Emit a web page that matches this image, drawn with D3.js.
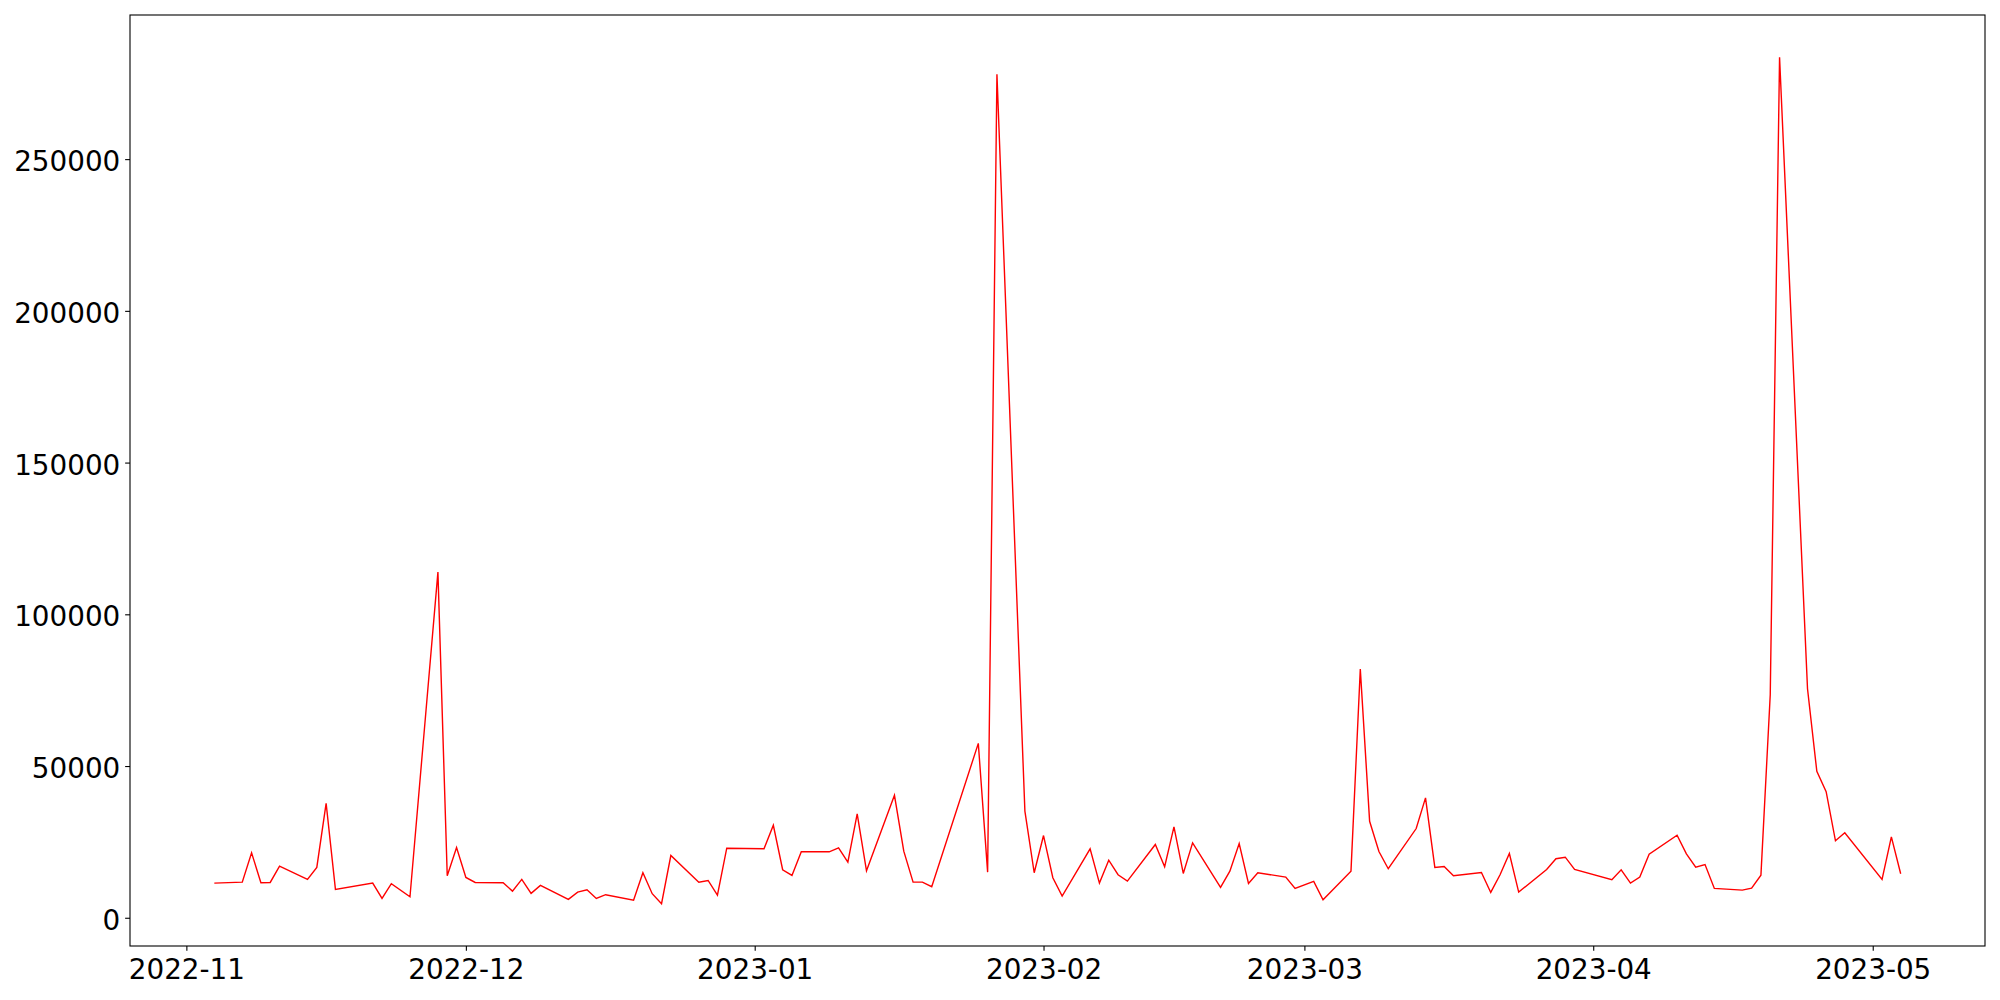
<!DOCTYPE html>

<head>
    <meta charset="utf-8">
    <script src="https://d3js.org/d3.v7.min.js"></script>
</head>

<body style="margin: 0; background: #fff">
    <style>
        .tick text {
            font-family: "DejaVu Sans", sans-serif;
            font-size: 27.8px;
            fill: #000;
        }

    </style>
    <svg width="2000" height="1000"></svg>

    <script>
        var dates = [
            "2022-11-04", "2022-11-07", "2022-11-08", "2022-11-09", "2022-11-10", "2022-11-11",
            "2022-11-14", "2022-11-15", "2022-11-16", "2022-11-17", "2022-11-21", "2022-11-22",
            "2022-11-23", "2022-11-25", "2022-11-28", "2022-11-29", "2022-11-30", "2022-12-01",
            "2022-12-02", "2022-12-05", "2022-12-06", "2022-12-07", "2022-12-08", "2022-12-09",
            "2022-12-12", "2022-12-13", "2022-12-14", "2022-12-15", "2022-12-16", "2022-12-19",
            "2022-12-20", "2022-12-21", "2022-12-22", "2022-12-23", "2022-12-26", "2022-12-27",
            "2022-12-28", "2022-12-29", "2023-01-02", "2023-01-03", "2023-01-04", "2023-01-05",
            "2023-01-06", "2023-01-09", "2023-01-10", "2023-01-11", "2023-01-12", "2023-01-13",
            "2023-01-16", "2023-01-17", "2023-01-18", "2023-01-19", "2023-01-20", "2023-01-25",
            "2023-01-26", "2023-01-27", "2023-01-30", "2023-01-31", "2023-02-01", "2023-02-02",
            "2023-02-03", "2023-02-06", "2023-02-07", "2023-02-08", "2023-02-09", "2023-02-10",
            "2023-02-13", "2023-02-14", "2023-02-15", "2023-02-16", "2023-02-17", "2023-02-20",
            "2023-02-21", "2023-02-22", "2023-02-23", "2023-02-24", "2023-02-27", "2023-02-28",
            "2023-03-02", "2023-03-03", "2023-03-06", "2023-03-07", "2023-03-08", "2023-03-09",
            "2023-03-10", "2023-03-13", "2023-03-14", "2023-03-15", "2023-03-16", "2023-03-17",
            "2023-03-20", "2023-03-21", "2023-03-22", "2023-03-23", "2023-03-24", "2023-03-27",
            "2023-03-28", "2023-03-29", "2023-03-30", "2023-04-03", "2023-04-04", "2023-04-05",
            "2023-04-06", "2023-04-07", "2023-04-10", "2023-04-11", "2023-04-12", "2023-04-13",
            "2023-04-14", "2023-04-17", "2023-04-18", "2023-04-19", "2023-04-20", "2023-04-21",
            "2023-04-24", "2023-04-25", "2023-04-26", "2023-04-27", "2023-04-28", "2023-05-02",
            "2023-05-03", "2023-05-04"
        ];

        var values = [
            11410, 11740, 21410, 11540, 11640, 17000,
            12630, 16580, 37720, 9340, 11410, 6380,
            11220, 6940, 113900, 13850, 23150, 13290,
            11640, 11540, 8780, 12630, 8030, 10660,
            6050, 8450, 9240, 6380, 7600, 5820,
            14830, 7930, 4640, 20520, 11740, 12300,
            7470, 22920, 22730, 30490, 15820, 13950,
            21740, 21740, 23060, 18320, 34240, 15490,
            40360, 21940, 11740, 11740, 10230, 57460,
            15030, 278000, 35160, 14830, 27100, 13190,
            7140, 22730, 11410, 18980, 14180, 12070,
            24140, 16810, 29960, 14600, 24700, 10000,
            15360, 24470, 11310, 14830, 13390, 9670,
            11970, 5950, 15360, 81930, 31800, 21840,
            16150, 29400, 39500, 16580, 16910, 13850,
            14930, 8350, 14180, 21180, 8450, 15920,
            19440, 19960, 15920, 12530, 15820, 11410,
            13390, 20950, 27200, 21080, 16680, 17560,
            9670, 9110, 9770, 14040, 73480, 283550,
            75450, 48250, 41570, 25360, 27990, 12630,
            26670, 14500
        ];

        var yTicks = [0, 50000, 100000, 150000, 200000, 250000];
        var xTicks = ["2022-11-01", "2022-12-01", "2023-01-01", "2023-02-01", "2023-03-01", "2023-04-01", "2023-05-01"];

        var parseDate = d3.timeParse("%Y-%m-%d");

        var data = dates.map(function(d, i) {
            return { date: parseDate(d), value: values[i] };
        });

        var svg = d3.select("svg");

        var plotLeft = 130, plotTop = 15, plotRight = 1985, plotBottom = 946;
        var tickLen = 4.86;

        // matplotlib style 5% margins around the data
        function pad(ext) {
            var m = (ext[1] - ext[0]) * 0.05;
            return [ext[0] - m, ext[1] + m];
        }

        var xExt = d3.extent(data, function(d) { return +d.date; });
        var yExt = d3.extent(data, function(d) { return d.value; });

        var x = d3.scaleTime()
            .domain(pad(xExt).map(function(t) { return new Date(t); }))
            .range([plotLeft, plotRight]);

        var y = d3.scaleLinear()
            .domain(pad(yExt))
            .range([plotBottom, plotTop]);

        var line = d3.line()
            .x(function(d) { return x(d.date); })
            .y(function(d) { return y(d.value); });

        svg.append("path")
            .datum(data)
            .attr("fill", "none")
            .attr("stroke", "#ff0000")
            .attr("stroke-width", 1.4)
            .attr("stroke-linejoin", "miter")
            .attr("d", line);

        // Axes
        var gx = svg.append("g")
            .attr("transform", "translate(0," + plotBottom + ")")
            .call(d3.axisBottom(x)
                .tickValues(xTicks.map(parseDate))
                .tickSize(tickLen)
                .tickPadding(tickLen)
                .tickFormat(d3.timeFormat("%Y-%m")));
        gx.select(".domain").remove();
        gx.selectAll(".tick line").attr("stroke", "#000").attr("stroke-width", 1.1);
        gx.selectAll(".tick text").attr("dy", "0.84em");

        var gy = svg.append("g")
            .attr("transform", "translate(" + plotLeft + ",0)")
            .call(d3.axisLeft(y)
                .tickValues(yTicks)
                .tickSize(tickLen)
                .tickPadding(tickLen)
                .tickFormat(d3.format("d")));
        gy.select(".domain").remove();
        gy.selectAll(".tick line").attr("stroke", "#000").attr("stroke-width", 1.1);
        gy.selectAll(".tick text").attr("dy", "0.42em");

        svg.selectAll(".tick text").attr("font-family", null).attr("font-size", null);

        svg.append("rect")
            .attr("x", plotLeft)
            .attr("y", plotTop)
            .attr("width", plotRight - plotLeft)
            .attr("height", plotBottom - plotTop)
            .attr("fill", "none")
            .attr("stroke", "#000")
            .attr("stroke-width", 1.1);

    </script>

</body>
